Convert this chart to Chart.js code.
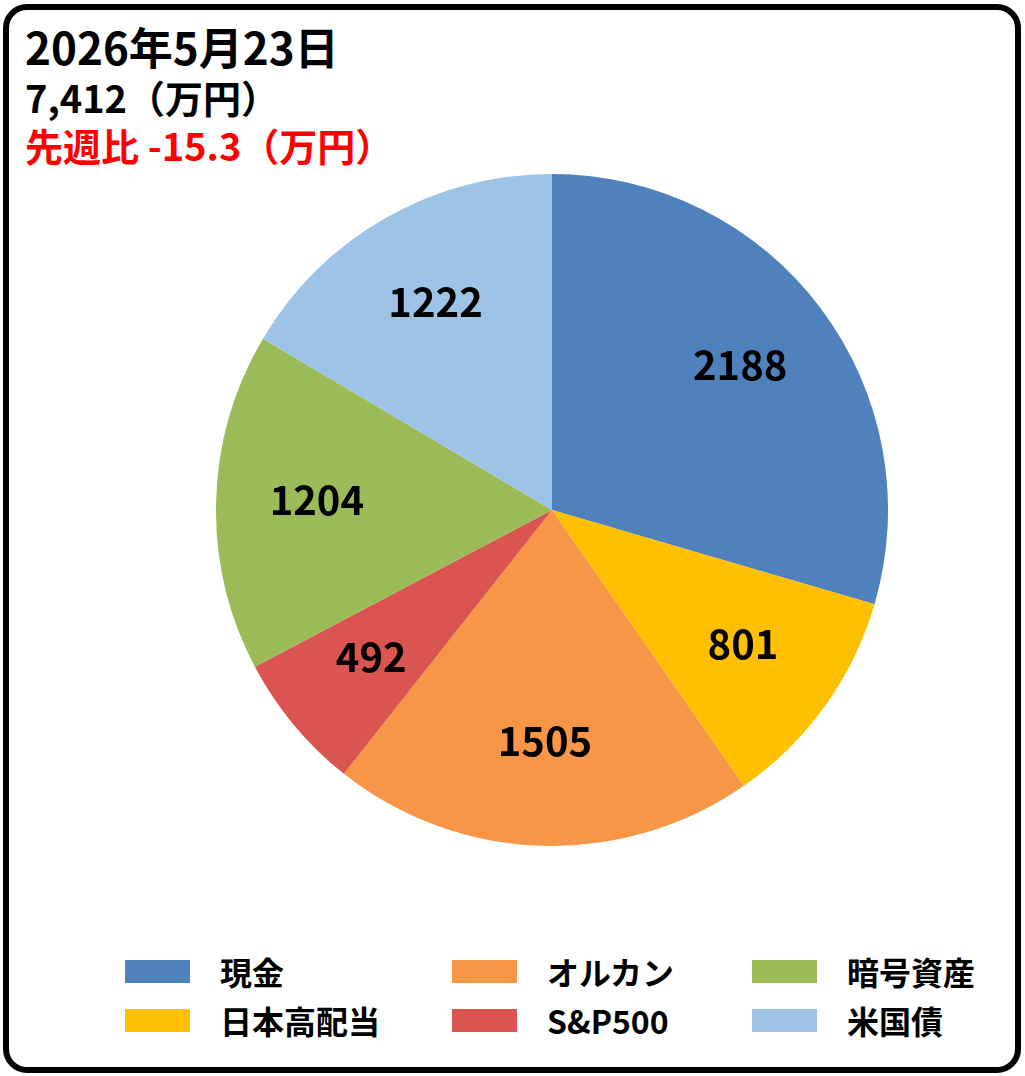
<!DOCTYPE html>
<html>
<head>
<meta charset="utf-8">
<script src="https://cdn.jsdelivr.net/npm/chart.js@4.4.1/dist/chart.umd.min.js"></script>
<style>
  html, body { margin: 0; padding: 0; background: #fff; }
  body { width: 1025px; height: 1076px; position: relative; overflow: hidden;
         font-family: "Noto Sans CJK JP", "Noto Sans", sans-serif; font-weight: bold; }
  .frame { position: absolute; left: 3px; top: 4px; width: 1006px; height: 1057px;
           border: 6px solid #000; border-radius: 24px; }
  .head { position: absolute; left: 25px; line-height: 1; white-space: nowrap; }
  #date { top: 24px; font-size: 44px; }
  #total { top: 78px; font-size: 38px; }
  #diff { top: 126px; font-size: 38px; color: #ff0000; }
  #pieWrap { position: absolute; left: 216px; top: 174px; width: 672px; height: 672px; }
  .legend-item { position: absolute; display: flex; align-items: center; font-size: 32px; line-height: 1; }
  .legend-item .box { width: 65px; height: 23px; margin-right: 30px; }
</style>
</head>
<body>
<div class="frame"></div>
<div class="head" id="date">2026年5月23日</div>
<div class="head" id="total">7,412（万円）</div>
<div class="head" id="diff">先週比 -15.3（万円）</div>
<div id="pieWrap"><canvas id="pie"></canvas></div>
<div id="legend"></div>

<script>
// Portfolio breakdown (万円)
const labels = ['現金', '日本高配当', 'オルカン', 'S&P500', '暗号資産', '米国債'];
const values = [2188, 801, 1505, 492, 1204, 1222];
const colors = ['#4F81BD', '#FFC000', '#F79646', '#DA5551', '#9BBB59', '#9DC3E6'];

// legend grid: 3 columns x 2 rows, filled column by column
const legendCols = [125, 452, 752];
const legendRows = [959, 1008];

function buildLegend() {
    const holder = document.getElementById('legend');
    labels.forEach(function(name, i) {
        const item = document.createElement('div');
        item.className = 'legend-item';
        item.style.left = legendCols[Math.floor(i / 2)] + 'px';
        item.style.top = (legendRows[i % 2] - 4) + 'px';
        item.innerHTML = '<span class="box" style="background:' + colors[i] + '"></span><span>' + name + '</span>';
        holder.appendChild(item);
    });
}

// draw values inside each slice
const sliceLabels = {
    id: 'sliceLabels',
    afterDatasetsDraw: function(chart) {
        const ctx = chart.ctx;
        const meta = chart.getDatasetMeta(0);
        ctx.save();
        ctx.font = 'bold 40px "Noto Sans CJK JP", sans-serif';
        ctx.fillStyle = '#000';
        ctx.textAlign = 'center';
        ctx.textBaseline = 'middle';
        meta.data.forEach(function(arc, i) {
            const mid = (arc.startAngle + arc.endAngle) / 2;
            const r = arc.outerRadius * 0.7;
            ctx.fillText(String(values[i]), arc.x + Math.cos(mid) * r, arc.y + Math.sin(mid) * r - 4);
        });
        ctx.restore();
    }
};

buildLegend();

new Chart(document.getElementById('pie'), {
    type: 'pie',
    data: {
        labels: labels,
        datasets: [{
            data: values,
            backgroundColor: colors,
            borderWidth: 0
        }]
    },
    options: {
        responsive: true,
        maintainAspectRatio: false,
        animation: false,
        layout: { padding: 0 },
        plugins: {
            legend: { display: false },
            tooltip: { enabled: false }
        }
    },
    plugins: [sliceLabels]
});
</script>
</body>
</html>
